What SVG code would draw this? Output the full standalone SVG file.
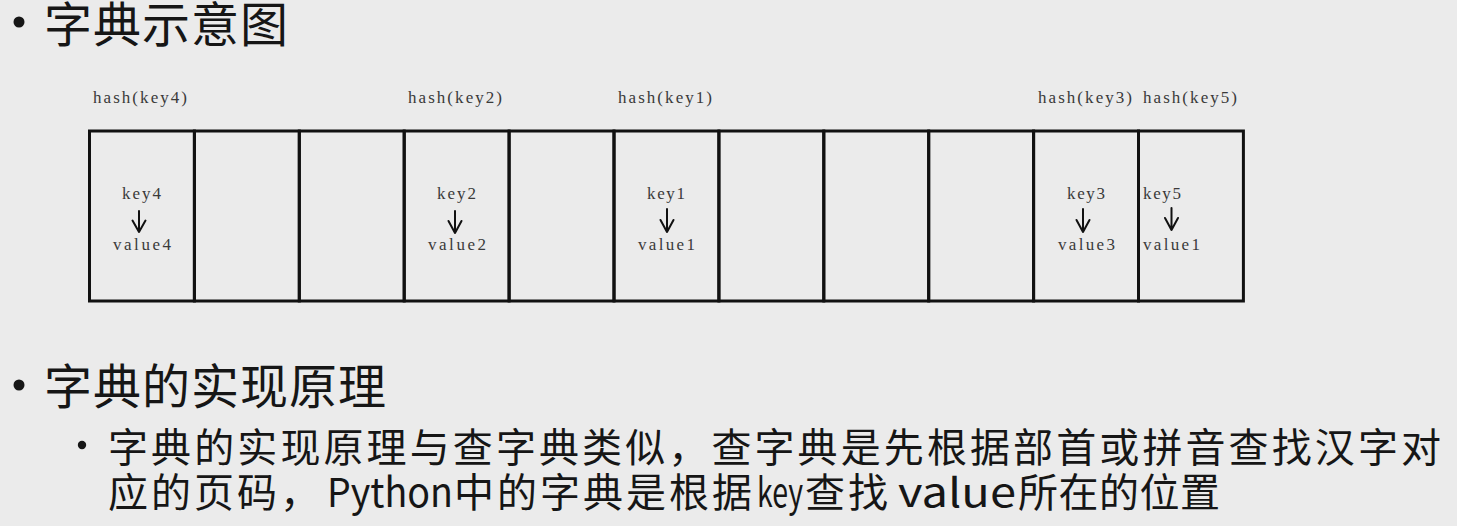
<svg xmlns="http://www.w3.org/2000/svg" width="1457" height="526" viewBox="0 0 1457 526">
<style>
.bg{fill:#ebebeb}
.cell{fill:none;stroke:#111;stroke-width:3}
.h{font-family:"Noto Sans CJK SC","Noto Sans",sans-serif;fill:#161616}
.s{font-family:"Liberation Serif","DejaVu Serif",serif;font-size:17px;fill:#3a3a3a}
.arr{fill:none;stroke:#111;stroke-width:2;stroke-linecap:round;stroke-linejoin:round}
.dot{fill:#161616}
</style>
<rect class="bg" x="0" y="0" width="1457" height="526"/>
<g id="heading1">
<circle class="dot" cx="19" cy="22" r="5.5"/>
<text class="h" x="44" y="42" font-size="48" letter-spacing="1">字典示意图</text>
</g>
<g id="hash-labels">
<text class="s" x="93" y="103" textLength="94" lengthAdjust="spacing">hash(key4)</text>
<text class="s" x="408" y="103" textLength="94" lengthAdjust="spacing">hash(key2)</text>
<text class="s" x="618" y="103" textLength="94" lengthAdjust="spacing">hash(key1)</text>
<text class="s" x="1038" y="103" textLength="94" lengthAdjust="spacing">hash(key3)</text>
<text class="s" x="1143" y="103" textLength="94" lengthAdjust="spacing">hash(key5)</text>
</g>
<g id="slot0"><rect class="cell" x="89.5" y="131" width="104.9" height="170"/>
<text class="s" x="122" y="199" textLength="39" lengthAdjust="spacing">key4</text>
<text class="s" x="113" y="250" textLength="58" lengthAdjust="spacing">value4</text></g>
<g id="slot1"><rect class="cell" x="194.4" y="131" width="104.9" height="170"/></g>
<g id="slot2"><rect class="cell" x="299.3" y="131" width="104.9" height="170"/></g>
<g id="slot3"><rect class="cell" x="404.2" y="131" width="104.9" height="170"/>
<text class="s" x="437" y="199" textLength="39" lengthAdjust="spacing">key2</text>
<text class="s" x="428" y="250" textLength="58" lengthAdjust="spacing">value2</text></g>
<g id="slot4"><rect class="cell" x="509.1" y="131" width="104.9" height="170"/></g>
<g id="slot5"><rect class="cell" x="614" y="131" width="104.9" height="170"/>
<text class="s" x="647" y="199" textLength="38" lengthAdjust="spacing">key1</text>
<text class="s" x="638" y="250" textLength="57" lengthAdjust="spacing">value1</text></g>
<g id="slot6"><rect class="cell" x="718.9" y="131" width="104.9" height="170"/></g>
<g id="slot7"><rect class="cell" x="823.8" y="131" width="104.9" height="170"/></g>
<g id="slot8"><rect class="cell" x="928.7" y="131" width="104.9" height="170"/></g>
<g id="slot9"><rect class="cell" x="1033.6" y="131" width="104.9" height="170"/>
<text class="s" x="1067" y="199" textLength="38" lengthAdjust="spacing">key3</text>
<text class="s" x="1058" y="250" textLength="57" lengthAdjust="spacing">value3</text></g>
<g id="slot10"><rect class="cell" x="1138.5" y="131" width="104.9" height="170"/>
<text class="s" x="1143" y="199" textLength="38" lengthAdjust="spacing">key5</text>
<text class="s" x="1143" y="250" textLength="57" lengthAdjust="spacing">value1</text></g>
<g id="connectors">
<path class="arr" d="M139 211V232M132.5 220.5L139 232L145.5 220.5"/>
<path class="arr" d="M455 211V233M448.5 221L455 233L461.5 221"/>
<path class="arr" d="M667 209V232M660.5 220L667 232L673.5 220"/>
<path class="arr" d="M1083 209V232M1076.5 220L1083 232L1089.5 220"/>
<path class="arr" d="M1171.5 208V230M1165 218L1171.5 230L1178 218"/>
</g>
<g id="heading2">
<circle class="dot" cx="19" cy="385" r="5.5"/>
<text class="h" x="44" y="404" font-size="48" letter-spacing="1">字典的实现原理</text>
</g>
<g id="body">
<circle class="dot" cx="82" cy="445" r="4.2"/>
<text class="h" x="108" y="462" font-size="40" letter-spacing="3.1">字典的实现原理与查字典类似，查字典是先根据部首或拼音查找汉字对</text>
<text class="h" y="507" font-size="40"><tspan x="108" letter-spacing="3">应的页码，</tspan><tspan x="327" textLength="126" lengthAdjust="spacingAndGlyphs">Python</tspan><tspan x="454" letter-spacing="3">中的字典是根据</tspan><tspan x="757" textLength="46" lengthAdjust="spacingAndGlyphs">key</tspan><tspan x="805" letter-spacing="3">查找</tspan><tspan x="898" textLength="118" lengthAdjust="spacingAndGlyphs">value</tspan><tspan x="1018" letter-spacing="0.5">所在的位置</tspan></text>
</g>
</svg>
